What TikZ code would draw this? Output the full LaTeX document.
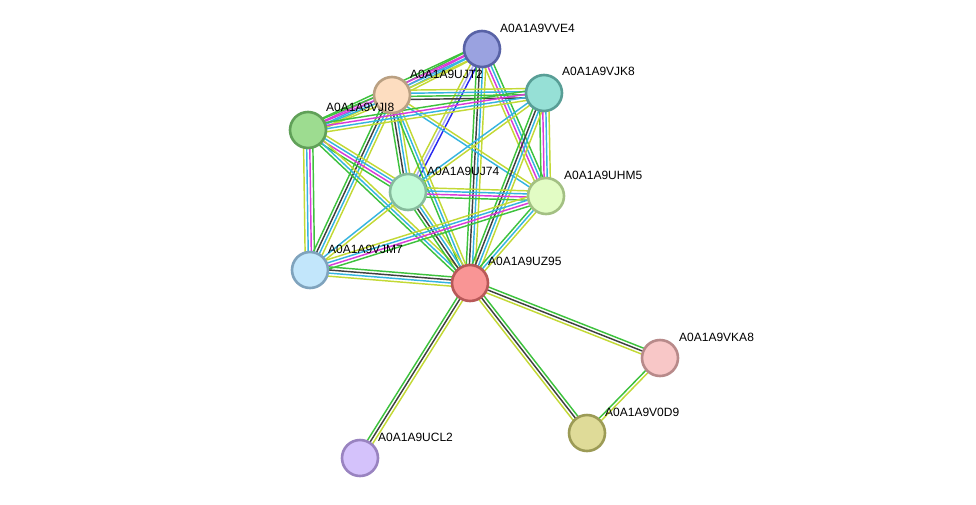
\documentclass[tikz,border=0pt]{standalone}
\usepackage{fontspec}
\setmainfont{Liberation Sans}
\usetikzlibrary{calc}
\pgfdeclarelayer{background}
\pgfsetlayers{background,main}
\definecolor{cgreen}{HTML}{3DC23D}
\definecolor{cblack}{HTML}{404040}
\definecolor{ccyan}{HTML}{35B4E0}
\definecolor{cyellow}{HTML}{C3D935}
\definecolor{cmagenta}{HTML}{D93AD9}
\definecolor{cblue}{HTML}{2828F0}
\definecolor{chomol}{HTML}{A8A8F5}
\tikzset{
  prot/.style={circle, minimum size=36pt, inner sep=0pt, line width=2.6pt},
  plabel/.style={anchor=west, font=\fontsize{12pt}{14pt}\selectfont, inner sep=0pt, text=black},
  eline/.style={line width=1.45pt}
}
\newcommand{\sedge}[4]{%
  \foreach \cc [count=\ii] in {#4} {%
    \pgfmathsetmacro\off{(\ii-(#3+1)/2)*3.1}%
    \draw[eline, \cc] ($(#1.center)!\off pt!90:(#2.center)$) -- ($(#2.center)!\off pt!-90:(#1.center)$);
  }%
}
\begin{document}
\begin{tikzpicture}[x=1pt, y=-1pt]
\useasboundingbox (0,0) rectangle (976,504);
% nodes
\node[prot, fill={rgb,255:red,154;green,162;blue,224}, draw={rgb,255:red,88;green,98;blue,166}] (VVE4) at (482,49) {};
\node[prot, fill={rgb,255:red,253;green,221;blue,192}, draw={rgb,255:red,186;green,160;blue,130}] (UJT2) at (392,95) {};
\node[prot, fill={rgb,255:red,150;green,224;blue,214}, draw={rgb,255:red,88;green,158;blue,150}] (VJK8) at (544,93) {};
\node[prot, fill={rgb,255:red,157;green,220;blue,144}, draw={rgb,255:red,96;green,160;blue,88}] (VJI8) at (308,130) {};
\node[prot, fill={rgb,255:red,194;green,251;blue,216}, draw={rgb,255:red,134;green,188;blue,156}] (UJ74) at (408,192) {};
\node[prot, fill={rgb,255:red,226;green,252;blue,196}, draw={rgb,255:red,163;green,192;blue,131}] (UHM5) at (546,196) {};
\node[prot, fill={rgb,255:red,194;green,230;blue,251}, draw={rgb,255:red,127;green,163;blue,189}] (VJM7) at (310,270) {};
\node[prot, fill={rgb,255:red,249;green,149;blue,149}, draw={rgb,255:red,184;green,88;blue,88}] (UZ95) at (470,283) {};
\node[prot, fill={rgb,255:red,248;green,199;blue,199}, draw={rgb,255:red,184;green,138;blue,138}] (VKA8) at (660,358) {};
\node[prot, fill={rgb,255:red,223;green,219;blue,152}, draw={rgb,255:red,156;green,155;blue,86}] (V0D9) at (587,433) {};
\node[prot, fill={rgb,255:red,212;green,194;blue,251}, draw={rgb,255:red,153;green,131;blue,192}] (UCL2) at (360,458) {};
% labels
\node[plabel] (lVVE4) at (500,28) {A0A1A9VVE4};
\node[plabel] (lUJT2) at (410,74) {A0A1A9UJT2};
\node[plabel] (lVJK8) at (562,71) {A0A1A9VJK8};
\node[plabel] (lVJI8) at (326,107) {A0A1A9VJI8};
\node[plabel] (lUJ74) at (427,171) {A0A1A9UJ74};
\node[plabel] (lUHM5) at (564,175) {A0A1A9UHM5};
\node[plabel] (lVJM7) at (328,249) {A0A1A9VJM7};
\node[plabel] (lUZ95) at (488,261) {A0A1A9UZ95};
\node[plabel] (lVKA8) at (679,337) {A0A1A9VKA8};
\node[plabel] (lV0D9) at (605,412) {A0A1A9V0D9};
\node[plabel] (lUCL2) at (378,437) {A0A1A9UCL2};
% edges
\begin{pgfonlayer}{background}
\fill[white] (0,0) rectangle (976,504);
\sedge{VVE4}{UJT2}{4}{cgreen,cmagenta,ccyan,cyellow}
\sedge{VVE4}{VJI8}{4}{cgreen,cmagenta,ccyan,cyellow}
\sedge{VVE4}{UJ74}{3}{cyellow,chomol,cblue}
\sedge{VVE4}{UZ95}{4}{cgreen,cblack,ccyan,cyellow}
\sedge{VVE4}{UHM5}{4}{cyellow,cmagenta,ccyan,cgreen}
\sedge{UJT2}{VJK8}{4}{cblack,cgreen,ccyan,cyellow}
\sedge{UJT2}{VJI8}{4}{cgreen,cmagenta,ccyan,cyellow}
\sedge{UJT2}{UJ74}{4}{cgreen,cblack,ccyan,cyellow}
\sedge{UJT2}{UHM5}{2}{ccyan,cyellow}
\sedge{UJT2}{UZ95}{3}{cgreen,ccyan,cyellow}
\sedge{UJT2}{VJM7}{4}{cgreen,cblack,ccyan,cyellow}
\sedge{VJK8}{VJI8}{4}{cgreen,cmagenta,ccyan,cyellow}
\sedge{VJK8}{UJ74}{2}{ccyan,cyellow}
\sedge{VJK8}{UHM5}{4}{cgreen,cmagenta,ccyan,cyellow}
\sedge{VJK8}{UZ95}{4}{cgreen,cblack,ccyan,cyellow}
\sedge{VJI8}{UJ74}{4}{cgreen,cmagenta,ccyan,cyellow}
\sedge{VJI8}{UZ95}{3}{cgreen,ccyan,cyellow}
\sedge{VJI8}{VJM7}{4}{cyellow,ccyan,cmagenta,cgreen}
\sedge{UJ74}{UHM5}{4}{cgreen,cmagenta,ccyan,cyellow}
\sedge{UJ74}{UZ95}{4}{cgreen,cblack,ccyan,cyellow}
\sedge{UJ74}{VJM7}{2}{ccyan,cyellow}
\sedge{UHM5}{UZ95}{3}{cgreen,ccyan,cyellow}
\sedge{UHM5}{VJM7}{4}{cyellow,ccyan,cmagenta,cgreen}
\sedge{VJM7}{UZ95}{4}{cyellow,ccyan,cblack,cgreen}
\sedge{UZ95}{VKA8}{3}{cyellow,cblack,cgreen}
\sedge{UZ95}{V0D9}{3}{cyellow,cblack,cgreen}
\sedge{UZ95}{UCL2}{3}{cgreen,cblack,cyellow}
\sedge{VKA8}{V0D9}{2}{cgreen,cyellow}
\end{pgfonlayer}
\end{tikzpicture}
\end{document}
